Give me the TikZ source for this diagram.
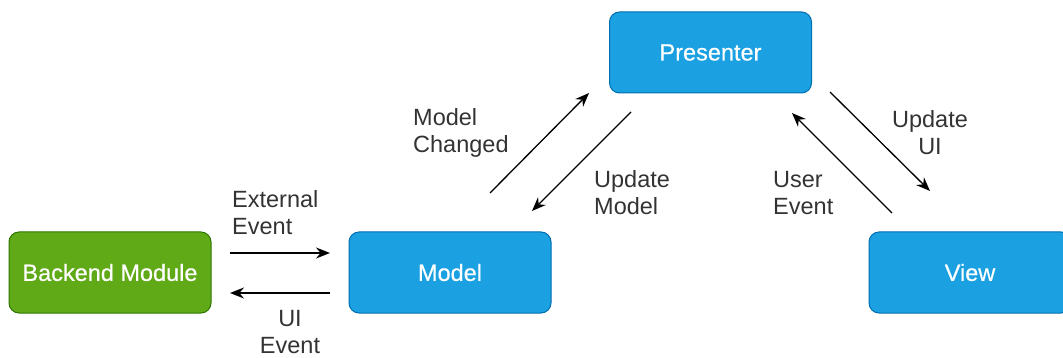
\documentclass[tikz,border=0pt]{standalone}
\usepackage{fontspec}
\setmainfont{Liberation Sans}
\newfontfamily\boxfont[FakeBold=0.5]{Liberation Sans}
\usetikzlibrary{arrows.meta}
\definecolor{greenfill}{HTML}{60A917}
\definecolor{greenline}{HTML}{2D7600}
\definecolor{bluefill}{HTML}{1BA1E2}
\definecolor{blueline}{HTML}{006EAF}
\definecolor{labelgrey}{HTML}{333333}
\begin{document}
\begin{tikzpicture}[x=1pt,y=-1pt,
  box/.style={rectangle, rounded corners=10pt, line width=1pt,
    minimum width=202pt, minimum height=81pt, inner sep=0pt,
    text=white, font=\boxfont\fontsize{23.5}{27}\selectfont},
  greenbox/.style={box, fill=greenfill, draw=greenline},
  bluebox/.style={box, fill=bluefill, draw=blueline},
  lbl/.style={inner sep=0pt, text=labelgrey, font=\fontsize{23.5}{27}\selectfont},
  flow/.style={line width=1.3pt, -{Stealth[length=14pt,width=11pt]}}]
\useasboundingbox (0,0) rectangle (1063,358);

% boxes
\node[greenbox] (backend)   at (110,272.5) {Backend Module};
\node[bluebox]  (model)     at (450,272.5) {Model};
\node[bluebox]  (presenter) at (710.5,52.5) {Presenter};
\node[bluebox]  (view)      at (970,272.5) {View};

% free ends of the connectors
\coordinate (ext0) at (230,253);  \coordinate (ext1) at (330,253);
\coordinate (ui0)  at (330,293);  \coordinate (ui1)  at (230,293);
\coordinate (mc0)  at (490,193);  \coordinate (mc1)  at (589,93);
\coordinate (um0)  at (631,112);  \coordinate (um1)  at (532,211);
\coordinate (uu0)  at (830,92);   \coordinate (uu1)  at (930,191);
\coordinate (ue0)  at (892,213);  \coordinate (ue1)  at (792,113);

% connectors
\draw[flow] (ext0) -- (ext1);
\draw[flow] (ui0) -- (ui1);
\draw[flow] (mc0) -- (mc1);
\draw[flow] (um0) -- (um1);
\draw[flow] (uu0) -- (uu1);
\draw[flow] (ue0) -- (ue1);

% connector labels
\node[lbl, align=left, anchor=west]  (lext) at (232,213) {External\\Event};
\node[lbl, align=center]             (lui)  at (290,332) {UI\\Event};
\node[lbl, align=left, anchor=west]  (lmc)  at (413,133) {Model\\Changed};
\node[lbl, align=left, anchor=west]  (lum)  at (594,193) {Update\\Model};
\node[lbl, align=center]             (luu)  at (930,133) {Update\\UI};
\node[lbl, align=left, anchor=west]  (lue)  at (773,193) {User\\Event};
\end{tikzpicture}
\end{document}
